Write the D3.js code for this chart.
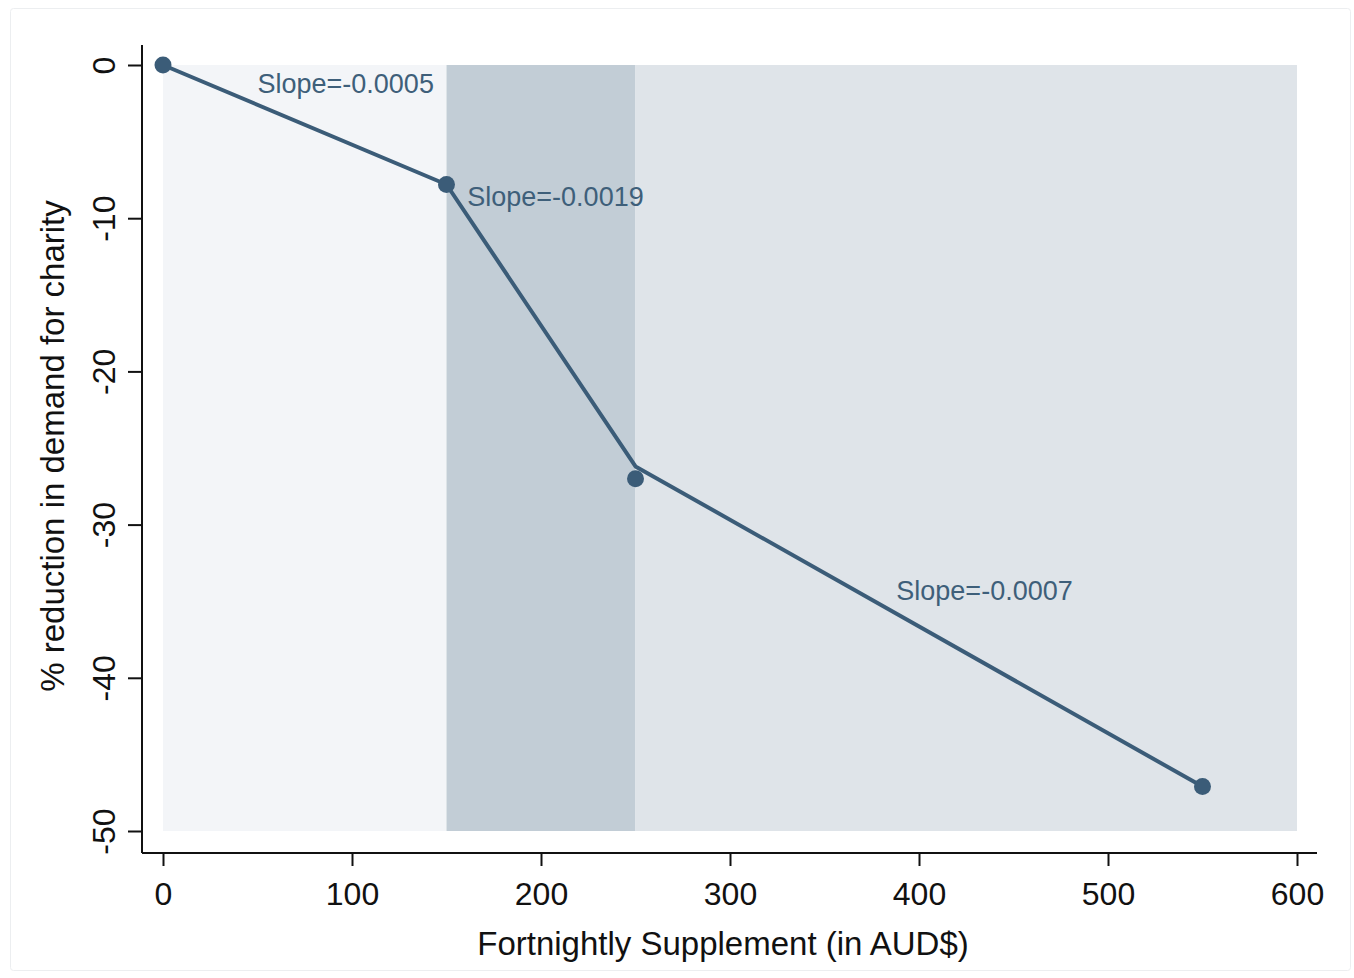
<!DOCTYPE html>
<html><head><meta charset="utf-8">
<script src="https://cdn.jsdelivr.net/npm/d3@7"></script>
<style>html,body{margin:0;padding:0;background:#fff}</style>
</head><body>
<svg id="c" width="1354" height="978"></svg>
<script>
const supplement = [0, 150, 250, 550];
const lineValues = [0, -7.8, -26.2, -47.1];
const pointValues = [0, -7.8, -27.0, -47.1];
const bands = [
  {x0: 0, x1: 150, fill: "#f3f5f8"},
  {x0: 150, x1: 250, fill: "#c2cdd6"},
  {x0: 250, x1: 600, fill: "#dfe4e9"}
];
const slopeLabels = [
  {x: 50, y: -1.8, text: "Slope=-0.0005"},
  {x: 161, y: -9.2, text: "Slope=-0.0019"},
  {x: 388, y: -34.9, text: "Slope=-0.0007"}
];
const xTicks = [0, 100, 200, 300, 400, 500, 600];
const yTicks = [0, -10, -20, -30, -40, -50];

const svg = d3.select("#c");
const font = "Liberation Sans, Arial, sans-serif";
svg.append("rect").attr("x", 10.5).attr("y", 8.5).attr("width", 1340).attr("height", 962)
  .attr("fill", "#fff").attr("stroke", "#eceef0").attr("rx", 3);

const x = d3.scaleLinear().domain([0, 600]).range([163, 1297]);
const y = d3.scaleLinear().domain([0, -50]).range([65, 831]);

svg.selectAll("rect.band").data(bands).join("rect").attr("class", "band")
  .attr("x", d => x(d.x0)).attr("width", d => x(d.x1) - x(d.x0))
  .attr("y", y(0)).attr("height", y(-50) - y(0)).attr("fill", d => d.fill);

// axes
const xAxis = svg.append("g").attr("transform", "translate(0,853)")
  .call(d3.axisBottom(x).tickValues(xTicks).tickFormat(d => String(d)).tickSize(13).tickPadding(16).tickSizeOuter(0));
xAxis.select(".domain").attr("d", "M142,0H1317");
const yAxis = svg.append("g").attr("transform", "translate(142,0)")
  .call(d3.axisLeft(y).tickValues(yTicks).tickFormat(d => String(d)).tickSize(14).tickSizeOuter(0));
yAxis.select(".domain").attr("d", "M0,45V853");
[xAxis, yAxis].forEach(g => {
  g.selectAll("path, line").attr("stroke", "#111").attr("stroke-width", 2);
  g.selectAll("text").attr("font-family", font).attr("font-size", 32).attr("fill", "#111");
});
yAxis.selectAll(".tick text").attr("transform", "rotate(-90)").attr("x", 0).attr("y", -27)
  .attr("dy", "0").attr("text-anchor", "middle");

svg.append("text").attr("x", 723).attr("y", 955).attr("text-anchor", "middle")
  .attr("font-family", font).attr("font-size", 33).attr("fill", "#111")
  .text("Fortnightly Supplement (in AUD$)");
svg.append("text").attr("transform", "translate(64,446) rotate(-90)").attr("text-anchor", "middle")
  .attr("font-family", font).attr("font-size", 33).attr("fill", "#111")
  .text("% reduction in demand for charity");

const col = "#3b5c78";
const line = d3.line().x((d, i) => x(supplement[i])).y(d => y(d));
svg.append("path").datum(lineValues).attr("d", line).attr("fill", "none")
  .attr("stroke", col).attr("stroke-width", 4).attr("stroke-linejoin", "round");
svg.selectAll("circle.pt").data(pointValues).join("circle").attr("class", "pt")
  .attr("cx", (d, i) => x(supplement[i])).attr("cy", d => y(d)).attr("r", 8.5).attr("fill", col);

svg.selectAll("text.sl").data(slopeLabels).join("text").attr("class", "sl")
  .attr("x", d => x(d.x)).attr("y", d => y(d.y))
  .attr("font-family", font).attr("font-size", 27).attr("fill", "#3e5f7a").text(d => d.text);
</script>
</body></html>
